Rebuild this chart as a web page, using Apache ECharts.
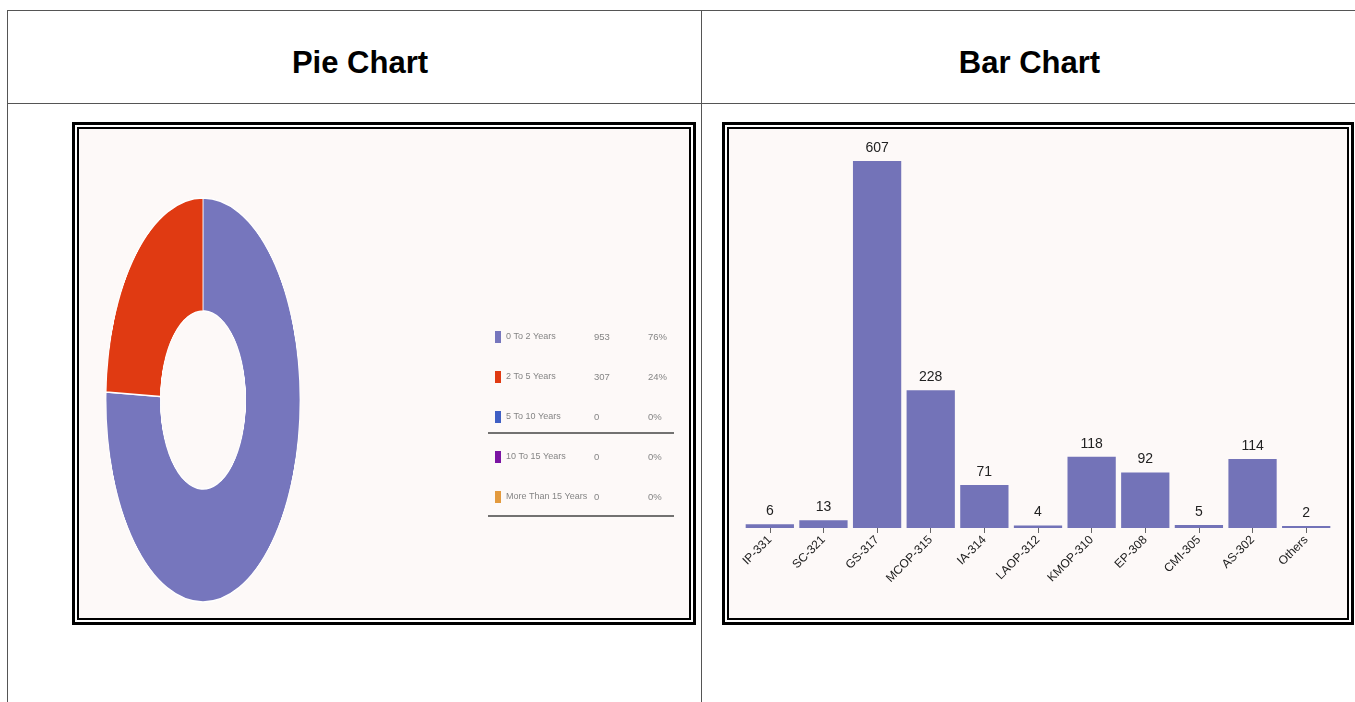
<!DOCTYPE html>
<html><head><meta charset="utf-8">
<script src="https://cdn.jsdelivr.net/npm/echarts@6/dist/echarts.min.js"></script>
<style>
html,body{margin:0;padding:0;background:#fff;width:1355px;height:702px;overflow:hidden;font-family:"Liberation Sans",Arial,sans-serif;}
.ln{position:absolute;background:#555;}
.title{position:absolute;top:43px;font-weight:bold;font-size:31px;color:#000;text-align:center;line-height:40px;}
.frame{position:absolute;border:3px solid #000;padding:2px;box-sizing:border-box;background:#fff;}
.inner{width:100%;height:100%;border:2px solid #000;box-sizing:border-box;background:#fdf9f8;position:relative;}
</style></head>
<body>
<div class="ln" style="left:7px;top:10px;width:1348px;height:1px"></div>
<div class="ln" style="left:7px;top:103px;width:1348px;height:1px"></div>
<div class="ln" style="left:7px;top:10px;width:1px;height:692px"></div>
<div class="ln" style="left:701px;top:10px;width:1px;height:692px"></div>
<div class="title" style="left:7px;width:706px">Pie Chart</div>
<div class="title" style="left:702px;width:655px">Bar Chart</div>

<div class="frame" style="left:72px;top:122px;width:624px;height:503px">
  <div class="inner"><div id="legendChart" style="position:absolute;left:0;top:0;width:610px;height:489px"></div></div>
</div>
<div id="pieChart" style="position:absolute;left:-7px;top:190px;width:420px;height:420px;transform:scaleX(0.48);transform-origin:210px 210px"></div>

<div class="frame" style="left:722px;top:122px;width:632px;height:503px">
  <div class="inner"><div id="barChart" style="position:absolute;left:0;top:0;width:618px;height:489px"></div></div>
</div>

<script>
// ---- Pie data ----
const pieNames = ["0 To 2 Years", "2 To 5 Years", "5 To 10 Years", "10 To 15 Years", "More Than 15 Years"];
const pieValues = [953, 307, 0, 0, 0];
const pieColors = ["#7676bd", "#e03a12", "#3f5fc4", "#7b14a3", "#e39a3e"];

// ---- Bar data ----
const barCategories = ["IP-331", "SC-321", "GS-317", "MCOP-315", "IA-314", "LAOP-312", "KMOP-310", "EP-308", "CMI-305", "AS-302", "Others"];
const barValues = [6, 13, 607, 228, 71, 4, 118, 92, 5, 114, 2];

const total = pieValues.reduce((a, b) => a + b, 0);
const pieData = pieNames.map((n, i) => ({ name: n, value: pieValues[i], itemStyle: { color: pieColors[i] } }));

// Pie (elliptical via CSS scale)
const pie = echarts.init(document.getElementById('pieChart'));
pie.setOption({
  animation: false,
  series: [{
    type: 'pie', radius: [89, 202], center: [210, 210], startAngle: 90, clockwise: true,
    label: { show: false }, labelLine: { show: false },
    itemStyle: { borderColor: '#ffffff', borderWidth: 1.5 },
    data: pieData
  }]
});

// Legend chart
const leg = echarts.init(document.getElementById('legendChart'));
leg.setOption({
  animation: false,
  legend: {
    orient: 'vertical', left: 411, top: 197,
    itemWidth: 6, itemHeight: 12, itemGap: 28,
    icon: 'rect',
    data: pieNames,
    formatter: function (name) {
      const i = pieNames.indexOf(name);
      const pct = Math.round(pieValues[i] / total * 100) + '%';
      return '{n|' + name + '}{v|' + pieValues[i] + '}{p|' + pct + '}';
    },
    textStyle: {
      color: '#858585', fontSize: 9, fontFamily: 'Liberation Sans, sans-serif',
      rich: { n: { width: 88, fontSize: 9, color: '#858585' }, v: { width: 54, fontSize: 9.5, color: '#858585' }, p: { fontSize: 9.5, color: '#858585' } }
    }
  },
  series: [{
    type: 'pie', radius: [0, 0], center: [-100, -100], label: { show: false }, labelLine: { show: false },
    data: pieData, silent: true
  }],
  graphic: [
    { type: 'line', shape: { x1: 409, y1: 304, x2: 595, y2: 304 }, style: { stroke: '#444', lineWidth: 1.5 } },
    { type: 'line', shape: { x1: 409, y1: 387, x2: 595, y2: 387 }, style: { stroke: '#444', lineWidth: 1.5 } }
  ]
});

// Bar chart
const bar = echarts.init(document.getElementById('barChart'));
bar.setOption({
  animation: false,
  grid: { left: 14, right: 14, top: 32, bottom: 90 },
  xAxis: {
    type: 'category', data: barCategories,
    axisLine: { show: false },
    axisTick: { show: true, alignWithLabel: true, length: 5, lineStyle: { color: '#666' } },
    axisLabel: { rotate: 45, fontSize: 12, color: '#222', margin: 10, interval: 0, fontFamily: 'Liberation Sans, sans-serif' }
  },
  yAxis: { type: 'value', min: 0, max: 607, show: false, splitLine: { show: false } },
  series: [{
    type: 'bar', data: barValues, barWidth: '90%', barMinHeight: 2,
    itemStyle: { color: '#7373b8' },
    label: { show: true, position: 'top', distance: 6, fontSize: 14, color: '#222', fontFamily: 'Liberation Sans, sans-serif' }
  }]
});
</script>
</body></html>
